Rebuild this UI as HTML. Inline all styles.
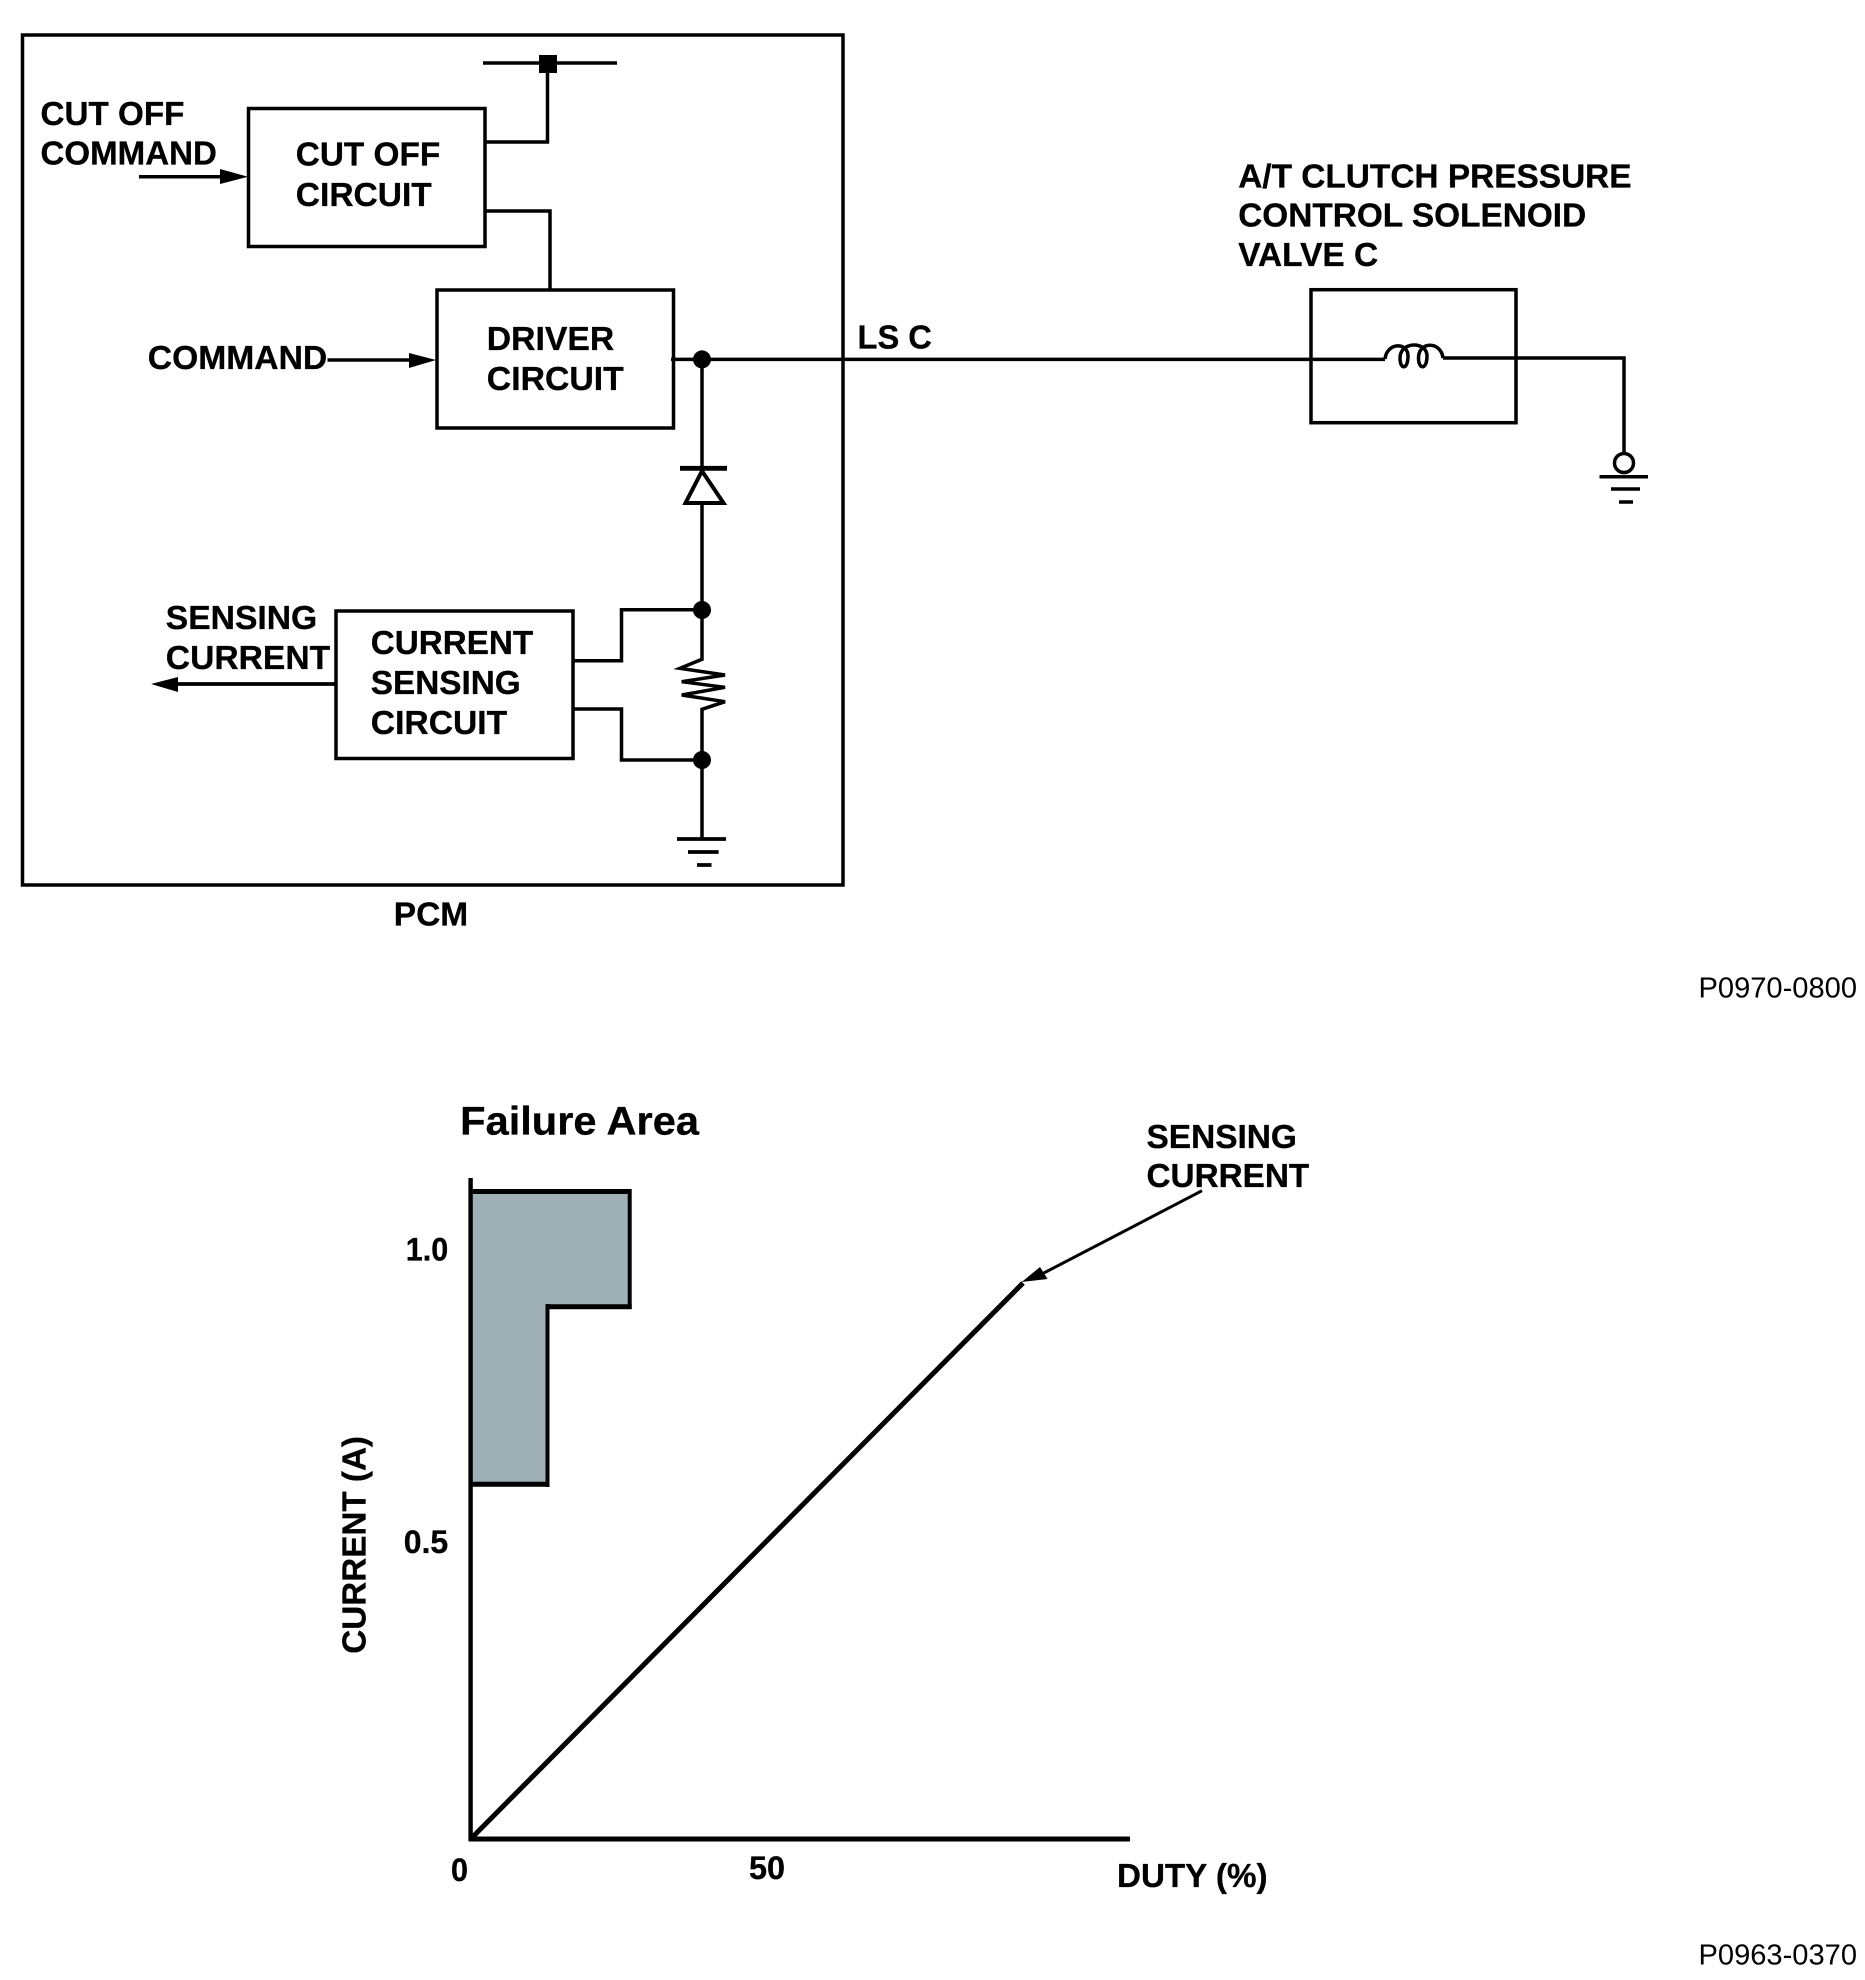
<!DOCTYPE html>
<html lang="en">
<head>
<meta charset="utf-8">
<title>A/T Clutch Pressure Control Solenoid Valve C</title>
<style>
html,body{margin:0;padding:0;background:#fff}
svg{display:block}
text{font-family:"Liberation Sans",sans-serif;font-weight:bold;fill:#000;stroke:#000;stroke-width:.3}
.n{font-weight:normal;stroke:none}
</style>
</head>
<body>
<svg xmlns="http://www.w3.org/2000/svg" width="1865" height="1980" viewBox="0 0 1865 1980">
<rect width="1865" height="1980" fill="#fff"/>
<g fill="none" stroke="#000" stroke-width="3.5">
  <!-- PCM box -->
  <rect x="22.5" y="35" width="820.5" height="850"/>
  <!-- bus -->
  <path d="M483 63H617"/>
  <path d="M547.5 70V142H485"/>
  <path d="M485 211H550V290"/>
  <!-- boxes -->
  <rect x="248.5" y="108.5" width="236.5" height="138" />
  <rect x="437" y="290" width="236.5" height="138"/>
  <rect x="336" y="611" width="237" height="147.5"/>
  <rect x="1311" y="289.7" width="205" height="133"/>
  <!-- arrow stems -->
  <path d="M139 176.7H222"/>
  <path d="M327.5 360H411"/>
  <path d="M178 684H336" stroke-width="3.8"/>
  <!-- signal line -->
  <path d="M671 359.4H1385"/>
  <path d="M1443 358H1624V453"/>
  <path d="M702 359V468"/>
  <path d="M702 503V659.3L680 668.3L725 675L681.7 681.7L725 687.3L681.7 695L725 701.7L702 709.3V839"/>
  <!-- sensing connections -->
  <path d="M573 660.7H621.5V609.7H702"/>
  <path d="M573 709H621.5V760H702"/>
  <!-- diode -->
  <path d="M702 471L685.5 503H723.5Z" stroke-width="4"/>
  <path d="M680 468.3H727" stroke-width="4.8"/>
  <!-- ground PCM -->
  <path d="M677 839H726M688 852H718.6M697 865H711.5" stroke-width="3.8"/>
  <!-- coil -->
  <path d="M1385 359C1387 342 1408 342 1408 356C1408 370 1400 370 1400 358C1400 341 1427 341 1427 356C1427 370 1418.5 370 1418.5 358C1418.5 341 1441 341 1443 358"/>
  <!-- external ground -->
  <circle cx="1624" cy="463" r="9.5"/>
  <path d="M1599.5 476.7H1648M1611 489H1640M1619 502H1633"/>
</g>
<!-- solid marks -->
<rect x="539" y="55" width="18" height="18" fill="#000"/>
<circle cx="702" cy="359.4" r="9" fill="#000"/>
<circle cx="702" cy="610" r="9" fill="#000"/>
<circle cx="702" cy="760" r="9" fill="#000"/>
<path d="M248 176.7L220 169V184Z" fill="#000"/>
<path d="M436 360L409 353V368Z" fill="#000"/>
<path d="M151 684L178 677V692Z" fill="#000"/>

<!-- circuit labels -->
<g font-size="33.5">
  <text x="40.5" y="125" textLength="143.9" lengthAdjust="spacingAndGlyphs">CUT OFF</text>
  <text x="40.5" y="164.3" textLength="176.4" lengthAdjust="spacingAndGlyphs">COMMAND</text>
  <text x="295.8" y="165.7" textLength="144.4" lengthAdjust="spacingAndGlyphs">CUT OFF</text>
  <text x="295.8" y="206" textLength="136" lengthAdjust="spacingAndGlyphs">CIRCUIT</text>
  <text x="486.8" y="350" textLength="127.4" lengthAdjust="spacingAndGlyphs">DRIVER</text>
  <text x="486.8" y="390" textLength="137" lengthAdjust="spacingAndGlyphs">CIRCUIT</text>
  <text x="147.8" y="369" textLength="179.4" lengthAdjust="spacingAndGlyphs">COMMAND</text>
  <text x="857.5" y="348.7" textLength="74.4" lengthAdjust="spacingAndGlyphs">LS C</text>
  <text x="1238.2" y="187.3" textLength="393.4" lengthAdjust="spacingAndGlyphs">A/T CLUTCH PRESSURE</text>
  <text x="1238.2" y="226.7" textLength="348" lengthAdjust="spacingAndGlyphs">CONTROL SOLENOID</text>
  <text x="1238.2" y="266" textLength="140" lengthAdjust="spacingAndGlyphs">VALVE C</text>
  <text x="370.8" y="654" textLength="162.4" lengthAdjust="spacingAndGlyphs">CURRENT</text>
  <text x="370.8" y="694" textLength="149.9" lengthAdjust="spacingAndGlyphs">SENSING</text>
  <text x="370.8" y="734" textLength="136.4" lengthAdjust="spacingAndGlyphs">CIRCUIT</text>
  <text x="165.8" y="629" textLength="151.4" lengthAdjust="spacingAndGlyphs">SENSING</text>
  <text x="165.8" y="669" textLength="164.4" lengthAdjust="spacingAndGlyphs">CURRENT</text>
  <text x="393.8" y="925.7" textLength="74.4" lengthAdjust="spacingAndGlyphs">PCM</text>
</g>
<text class="n" x="1698.5" y="997.3" font-size="29" textLength="158.5" lengthAdjust="spacingAndGlyphs">P0970-0800</text>

<!-- chart -->
<path d="M470.6 1191.5H629.7V1306.7H547.5V1484.3H470.6Z" fill="#9fb1b6"/>
<g fill="none" stroke="#000">
  <path d="M470.6 1191.5H629.7" stroke-width="5"/>
  <path d="M629.7 1189V1309" stroke-width="4"/>
  <path d="M631.7 1306.7H545.5" stroke-width="5"/>
  <path d="M547.5 1304V1487" stroke-width="4"/>
  <path d="M549.5 1484.3H470.6" stroke-width="5"/>
  <path d="M470.6 1178V1841" stroke-width="4.4"/>
  <path d="M468.5 1839H1130" stroke-width="5"/>
  <path d="M470.6 1839L1023 1283" stroke-width="5"/>
  <path d="M1202 1190.7L1040 1275" stroke-width="3"/>
</g>
<path d="M1021.7 1282L1040 1267L1047.6 1279Z" fill="#000"/>

<text x="460.2" y="1134.3" font-size="40" textLength="238.8" lengthAdjust="spacingAndGlyphs">Failure Area</text>
<g font-size="32">
  <text x="405.8" y="1260.7" textLength="42.4" lengthAdjust="spacingAndGlyphs">1.0</text>
  <text x="403.8" y="1553" textLength="44.4" lengthAdjust="spacingAndGlyphs">0.5</text>
  <text x="451" y="1881" textLength="17" lengthAdjust="spacingAndGlyphs">0</text>
  <text x="749" y="1879" textLength="36" lengthAdjust="spacingAndGlyphs">50</text>
</g>
<g font-size="33.5">
  <text x="1146.5" y="1148" textLength="150.4" lengthAdjust="spacingAndGlyphs">SENSING</text>
  <text x="1146.5" y="1187" textLength="162.7" lengthAdjust="spacingAndGlyphs">CURRENT</text>
  <text x="1117" y="1887" textLength="150.5" lengthAdjust="spacingAndGlyphs">DUTY (%)</text>
  <text transform="translate(365.5 1653.7) rotate(-90)" x="0" y="0" textLength="217.7" lengthAdjust="spacingAndGlyphs">CURRENT (A)</text>
</g>
<text class="n" x="1698.5" y="1964.3" font-size="29" textLength="158.5" lengthAdjust="spacingAndGlyphs">P0963-0370</text>
</svg>
</body>
</html>
